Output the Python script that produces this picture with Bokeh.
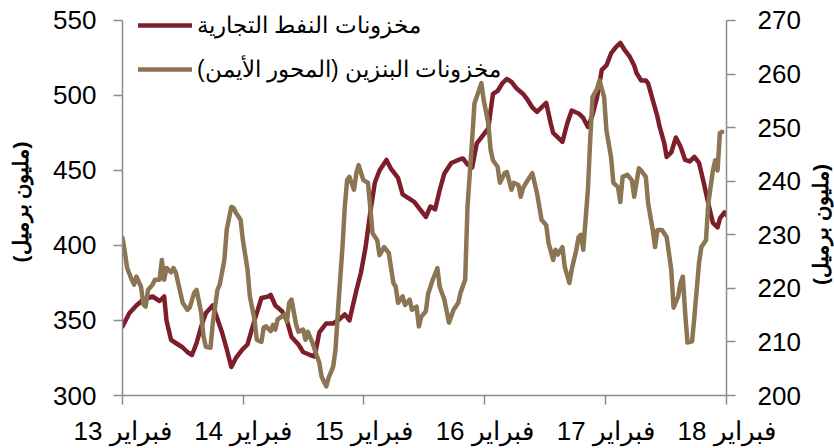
import pandas as pd
import math
from bokeh.plotting import figure
from bokeh.models import (Range1d, LinearAxis, FixedTicker, Legend, LegendItem, Label,
                          ColumnDataSource)
from bokeh.embed import file_html
from bokeh.resources import INLINE

# ---------------- data (weekly, weeks counted from Feb 1, 2013) ----------------
start_date = "2013-02-01"

oil_weeks = [0, 3, 6, 9, 13, 16, 18, 19, 21, 24, 26, 28, 30, 32, 34, 36, 39, 43, 45, 47,
             49, 52, 54, 57, 60, 63, 64, 66, 69, 71, 73, 76, 78, 81, 83, 85, 88, 91, 93, 96,
             98, 101, 103, 105, 107, 109, 111, 114, 116, 119, 121, 123, 126, 129, 131, 133,
             135, 137, 139, 142, 145, 147, 149, 151, 153, 155, 158, 159, 160, 162, 164, 166,
             168, 170, 173, 175, 177, 179, 181, 183, 185, 186, 188, 190, 192, 194, 197, 199,
             201, 203, 205, 207, 209, 211, 213, 215, 217, 219, 221, 222, 224, 226, 227, 229,
             231, 232, 234, 235, 237, 239, 241, 243, 245, 247, 249, 251, 253, 255, 257, 258,
             260, 261]
oil_values = [346, 355, 360, 364, 366, 363, 366, 350, 337, 334, 332, 329, 327, 335, 346, 355,
              360, 342, 331, 319, 325, 331, 334, 350, 365, 366, 367, 360, 356, 350, 339, 334,
              329, 327, 326, 342, 348, 348, 350, 354, 350, 370, 382, 399, 422, 442, 450, 457,
              451, 445, 434, 432, 429, 423, 419, 426, 424, 437, 448, 455, 457, 458, 454, 452,
              468, 472, 478, 490, 501, 503, 508, 511, 509, 505, 501, 497, 492, 489, 492, 495,
              481, 475, 472, 469, 481, 490, 488, 485, 479, 487, 499, 517, 520, 528, 532, 535,
              530, 526, 520, 515, 510, 510, 508, 497, 486, 479, 468, 459, 462, 472, 466, 457,
              456, 459, 455, 442, 428, 415, 412, 418, 422, 420]

gas_weeks = [0, 1, 2, 4, 5, 6, 8, 9, 10, 11, 13, 14, 16, 17, 18, 19, 21, 22, 23, 25, 26, 28,
             29, 31, 32, 34, 35, 36, 38, 39, 41, 42, 44, 45, 47, 48, 49, 51, 52, 54, 55, 57,
             58, 60, 61, 62, 64, 65, 66, 67, 70, 71, 72, 73, 75, 76, 78, 79, 80, 82, 83, 85,
             86, 88, 89, 91, 92, 93, 94, 95, 96, 97, 98, 100, 101, 102, 104, 106, 107, 108,
             110, 111, 113, 115, 117, 118, 119, 121, 122, 124, 125, 127, 128, 129, 131, 132,
             134, 136, 137, 139, 141, 143, 145, 146, 148, 149, 151, 152, 155, 156, 158, 159,
             160, 162, 163, 165, 166, 168, 169, 171, 172, 173, 175, 177, 179, 181, 183, 184,
             186, 187, 188, 190, 191, 193, 194, 196, 197, 198, 199, 201, 202, 203, 205, 206,
             208, 209, 211, 212, 214, 215, 216, 218, 220, 221, 223, 224, 226, 227, 229, 230,
             231, 233, 235, 237, 238, 240, 241, 242, 243, 244, 246, 247, 249, 250, 252, 253,
             255, 256, 257, 258, 259]
gas_values = [229.4, 226.8, 223.8, 221.6, 220.7, 222.2, 220.3, 217.0, 216.6, 219.7, 220.7,
              221.6, 221.6, 225.3, 221.6, 223.8, 223.0, 223.8, 223.0, 219.2, 217.3, 216.0,
              216.4, 219.2, 219.7, 215.4, 211.0, 209.1, 208.9, 213.6, 219.7, 220.7, 225.3,
              230.9, 235.2, 235.0, 234.1, 232.8, 229.0, 223.5, 218.5, 214.2, 210.4, 210.0,
              212.7, 212.9, 212.0, 213.2, 212.3, 214.2, 215.1, 213.8, 217.3, 217.9, 213.2,
              211.9, 212.3, 210.4, 211.9, 209.9, 208.6, 206.1, 203.5, 201.7, 203.3, 205.4,
              208.6, 215.4, 221.6, 227.7, 235.2, 240.2, 240.8, 238.4, 241.5, 243.0, 240.2,
              239.7, 235.2, 230.3, 229.0, 226.2, 227.7, 226.6, 221.0, 220.3, 217.3, 218.5,
              216.9, 217.9, 216.0, 216.6, 212.9, 214.7, 215.7, 219.0, 221.6, 223.8, 220.3,
              217.9, 213.6, 216.0, 217.3, 219.2, 221.6, 235.2, 247.7, 254.5, 258.3, 255.1,
              250.8, 245.8, 243.9, 242.7, 239.7, 241.5, 241.7, 238.4, 239.7, 239.3, 237.1,
              238.7, 240.2, 241.5, 237.8, 232.8, 231.8, 228.5, 225.3, 227.2, 226.3, 227.7,
              224.0, 221.0, 223.5, 227.2, 229.6, 230.0, 227.2, 238.4, 247.7, 255.7, 257.3,
              258.8, 255.7, 249.5, 244.5, 239.7, 238.9, 236.1, 240.8, 241.2, 240.2, 237.1,
              242.4, 242.0, 240.8, 235.9, 230.9, 227.7, 230.9, 230.9, 229.6, 223.5, 216.4,
              218.5, 221.0, 222.2, 215.4, 209.9, 210.1, 214.7, 224.8, 227.7, 229.0, 235.9,
              242.0, 243.9, 242.0, 249.0, 249.2]

left_ticks = [300, 350, 400, 450, 500, 550]
right_ticks = [200, 210, 220, 230, 240, 250, 260, 270]
tick_years = [2013, 2014, 2015, 2016, 2017, 2018]
tick_labels = ["فبراير 13", "فبراير 14", "فبراير 15", "فبراير 16", "فبراير 17", "فبراير 18"]
oil_name = "مخزونات النفط التجارية"
gas_name = "مخزونات البنزين (المحور الأيمن)"
unit_label = "(مليون برميل)"

# ---------------- build ----------------
t0 = pd.Timestamp(start_date)
oil_dates = [t0 + pd.Timedelta(weeks=w) for w in oil_weeks]
gas_dates = [t0 + pd.Timedelta(weeks=w) for w in gas_weeks]

oil_src = ColumnDataSource(dict(x=oil_dates, y=oil_values))
gas_src = ColumnDataSource(dict(x=gas_dates, y=gas_values))

def ms(ts):
    return float(pd.Timestamp(ts).value // 10**6)

tick_ms = [ms(f"{y}-02-01") for y in tick_years]

FONT = "Liberation Sans"
AXIS_COL = "#8c8c8c"
OIL_COL = "#7d1e2a"
GAS_COL = "#8b7553"

W, H = 834, 448
BL, BR, BT, BB = 122, 108, 8, 52
FW, FH = W - BL - BR, H - BT - BB
PAD = 12
l_lo, l_hi = left_ticks[0], left_ticks[-1]
r_lo, r_hi = right_ticks[0], right_ticks[-1]
l_top = l_hi + PAD * (l_hi - l_lo) / (FH - PAD)
r_top = r_hi + PAD * (r_hi - r_lo) / (FH - PAD)

p = figure(width=W, height=H, x_axis_type="datetime",
           output_backend="svg", toolbar_location=None,
           x_range=Range1d(tick_ms[0], tick_ms[-1]),
           y_range=Range1d(l_lo, l_top),
           min_border_left=BL, min_border_right=BR,
           min_border_top=BT, min_border_bottom=BB)
p.extra_y_ranges = {"gas": Range1d(r_lo, r_top)}
p.outline_line_color = None
p.background_fill_color = "white"
p.border_fill_color = "white"
p.xgrid.visible = False
p.ygrid.visible = False

r_oil = p.line("x", "y", source=oil_src, line_color=OIL_COL, line_width=4.5,
               line_join="round", line_cap="round")
r_gas = p.line("x", "y", source=gas_src, line_color=GAS_COL, line_width=4.5,
               line_join="round", line_cap="round", y_range_name="gas")

def style_axis(ax):
    ax.axis_line_color = AXIS_COL
    ax.axis_line_width = 1.5
    ax.major_tick_line_color = AXIS_COL
    ax.major_tick_line_width = 1.5
    ax.major_tick_in = 0
    ax.major_tick_out = 9
    ax.minor_tick_line_color = None
    ax.major_label_text_font = FONT
    ax.major_label_text_font_size = "26px"
    ax.major_label_text_color = "black"
    ax.major_label_standoff = 17
    ax.axis_label_text_font = FONT
    ax.axis_label_text_font_size = "21px"
    ax.axis_label_text_font_style = "bold"
    ax.axis_label_text_color = "black"

# bottom axis
xa = p.xaxis[0]
style_axis(xa)
xa.ticker = FixedTicker(ticks=tick_ms)
xa.major_label_overrides = {t: lab for t, lab in zip(tick_ms, tick_labels)}
xa.major_label_standoff = 11

# left axis
ya = p.yaxis[0]
style_axis(ya)
ya.ticker = FixedTicker(ticks=left_ticks)
ya.bounds = (l_lo, l_hi)
ya.axis_label = unit_label
ya.axis_label_standoff = 18

# right axis
ra = LinearAxis(y_range_name="gas", ticker=FixedTicker(ticks=right_ticks))
style_axis(ra)
ra.major_label_standoff = 22
ra.bounds = (r_lo, r_hi)
p.add_layout(ra, "right")

# right-hand unit title, reading bottom-to-top like the left one
x_span = tick_ms[-1] - tick_ms[0]
right_title = Label(x=tick_ms[-1] + 94 * x_span / FW, x_units="data",
                    y=171, y_units="screen", text=unit_label,
                    angle=math.pi / 2, text_align="center", text_baseline="middle",
                    text_font=FONT, text_font_size="21px", text_font_style="bold",
                    text_color="black")
p.add_layout(right_title, "right")

legend = Legend(items=[LegendItem(label=oil_name, renderers=[r_oil]),
                       LegendItem(label=gas_name + "\u200f", renderers=[r_gas])],
                location=(16, 311), orientation="vertical",
                background_fill_alpha=0, border_line_alpha=0,
                padding=0, margin=0, spacing=14,
                glyph_width=54, glyph_height=30, label_height=30, label_standoff=5,
                label_text_font=FONT, label_text_font_size="23px",
                label_text_color="black")
p.add_layout(legend, "center")

open("out.html", "w").write(file_html(p, INLINE))
